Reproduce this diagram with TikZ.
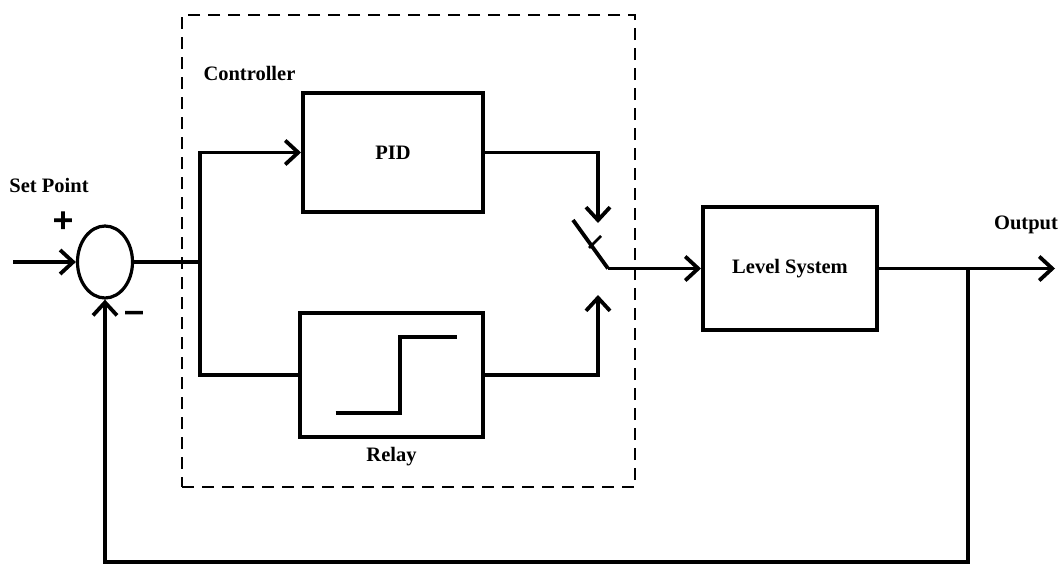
\documentclass[tikz,border=0pt]{standalone}
\usepackage{fontspec}
\setmainfont{Liberation Serif}
\newfontfamily\signfont[FakeBold=3]{Liberation Serif}
\usetikzlibrary{arrows.meta, positioning, shapes.geometric, calc}

\begin{document}
\begin{tikzpicture}[
    x=1pt, y=-1pt,
    blk/.style={draw, line width=4pt, inner sep=0pt,
                font=\bfseries\fontsize{20.5}{24}\selectfont},
    lbl/.style={font=\bfseries\fontsize{20.5}{24}\selectfont},
    sgn/.style={font=\signfont\bfseries\fontsize{36}{36}\selectfont, inner sep=0pt},
    wire/.style={line width=3.8pt},
    arr/.style={wire, -{Straight Barb[length=13pt, width=24pt]}},
]
    \useasboundingbox (0,0) rectangle (1059,568);

    % controller frame
    \node[draw, line width=1.6pt, dash pattern=on 12pt off 8pt,
          minimum width=453pt, minimum height=472pt] (ctrl) at (408.5,251) {};
    \node[lbl, anchor=west] (ctrllbl) at (200,73) {Controller};

    % summing junction
    \node[draw, ellipse, line width=3.2pt, minimum width=55pt, minimum height=72pt,
          inner sep=0pt] (sum) at (105,262) {};
    \node[lbl] (setlbl) at (49,185) {Set Point};
    \node[sgn] (plus) at (63,222) {+};
    \node[sgn] (minus) at (134,318) {−};

    % blocks
    \node[blk, minimum width=180pt, minimum height=119pt] (pid) at (393,152.5) {PID};
    \node[blk, minimum width=183pt, minimum height=124pt] (relay) at (391.5,375) {};
    \node[lbl, below=5pt of relay] (relaylbl) {Relay};
    \node[blk, minimum width=174pt, minimum height=123pt] (plant) at (790,268.5) {Level System};

    % relay characteristic
    \draw[line width=4.5pt] ([shift={(-56,38)}]relay.center) -| ([shift={(8.5,-38)}]relay.center)
        -- ([shift={(65.5,-38)}]relay.center);

    % points
    \coordinate (in) at (13,262);
    \coordinate (br) at (200,262);
    \coordinate (sw1) at (598,223);
    \coordinate (sw2) at (598,295);
    \coordinate (pivot) at (608,268.5);
    \coordinate (blade) at (573,220);
    \coordinate (out) at (1055,268.5);
    \coordinate (tap) at (968,268.5);
    \coordinate (fb) at (968,562);

    % signal lines
    \draw[arr] (in) -- (sum.west);
    \draw[wire] (sum.east) -- (br);
    \draw[arr] (br) |- (pid.west);
    \draw[wire] (br) |- (relay.west);
    \draw[arr] (pid.east) -| (sw1);
    \draw[arr] (relay.east) -| (sw2);
    \draw[wire] (pivot) -- (blade);
    \draw[line width=2.5pt] (589,248) -- (601,236);
    \draw[arr] (pivot) -- (plant.west);
    \draw[arr] (plant.east) -- (out);
    \node[lbl] (outlbl) at (1026,225) {Output};

    % feedback
    \draw[arr] (tap) -- (fb) -| (sum.south);
\end{tikzpicture}
\end{document}
